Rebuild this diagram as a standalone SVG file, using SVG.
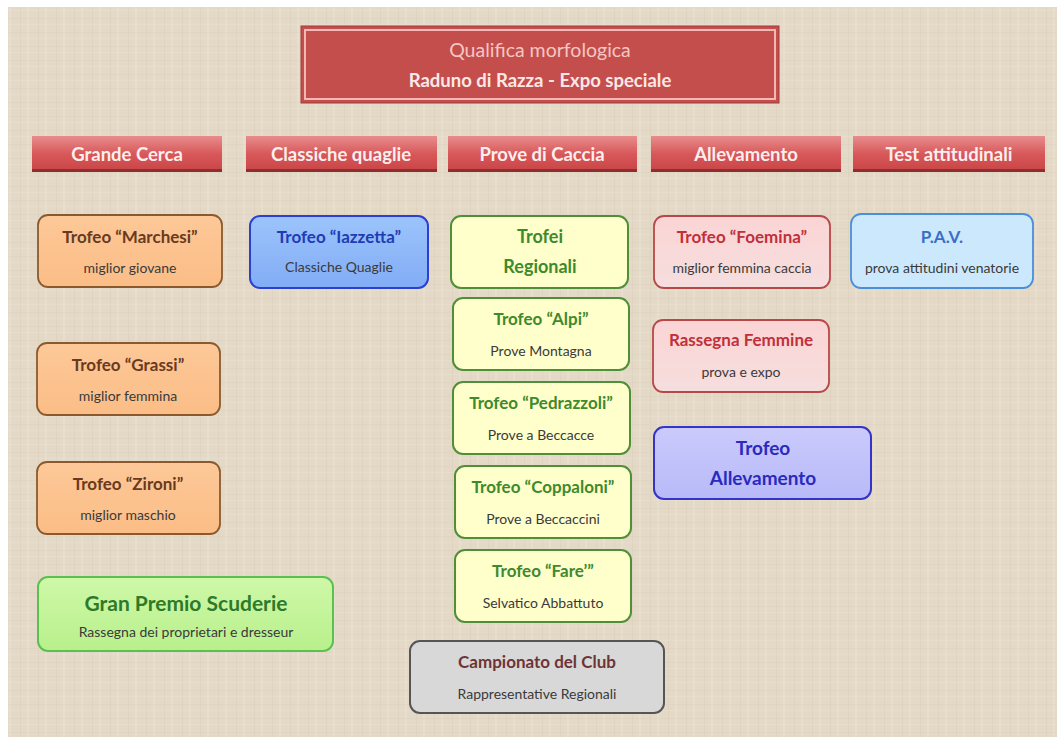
<svg xmlns="http://www.w3.org/2000/svg" width="1057" height="737" viewBox="0 0 1057 737">
<style>
text{font-family:Lato,"Open Sans","Liberation Sans",sans-serif;text-anchor:middle}
.hdr text{fill:#fbeeee;font-size:18.5px;font-weight:bold}
.t{font-size:17px;font-weight:bold}
.s{font-size:14px;fill:#3a3a3a}
.or{fill:url(#gOr);stroke:#8a5a2e;stroke-width:1.8}
.bl{fill:url(#gBl);stroke:#2b3fd0;stroke-width:2}
.ye{fill:#ffffcc;stroke:#4f8f3a;stroke-width:2}
.pk{fill:url(#gPk);stroke:#b84848;stroke-width:1.8}
.lb{fill:#cce8fc;stroke:#4a8fd8;stroke-width:1.8}
.vi{fill:url(#gVi);stroke:#3434c8;stroke-width:2}
.gr{fill:url(#gGr);stroke:#5cc050;stroke-width:2}
.gy{fill:#d8d8d8;stroke:#555555;stroke-width:2}
</style>
<defs>
<pattern id="tex" width="18" height="14" patternUnits="userSpaceOnUse">
<rect width="18" height="14" fill="#e4d9c7"/>
<rect x="2" width="1" height="14" fill="#d9cdb9" opacity="0.5"/>
<rect x="9" width="2" height="14" fill="#ece3d3" opacity="0.5"/>
<rect y="4" width="18" height="1" fill="#dacfbb" opacity="0.4"/>
<rect y="10" width="18" height="1" fill="#ece3d4" opacity="0.4"/>
</pattern>
<linearGradient id="gHdr" x1="0" y1="0" x2="0" y2="1">
<stop offset="0" stop-color="#e88c8c"/>
<stop offset="0.5" stop-color="#d8585a"/>
<stop offset="1" stop-color="#c84446"/>
</linearGradient>
<linearGradient id="gOr" x1="0" y1="0" x2="0" y2="1">
<stop offset="0" stop-color="#fdc898"/>
<stop offset="1" stop-color="#fbbd86"/>
</linearGradient>
<linearGradient id="gBl" x1="0" y1="0" x2="0" y2="1">
<stop offset="0" stop-color="#9cc4fb"/>
<stop offset="1" stop-color="#82acf6"/>
</linearGradient>
<linearGradient id="gPk" x1="0" y1="0" x2="0" y2="1">
<stop offset="0" stop-color="#fbd4d4"/>
<stop offset="1" stop-color="#f6dede"/>
</linearGradient>
<linearGradient id="gVi" x1="0" y1="0" x2="0" y2="1">
<stop offset="0" stop-color="#cacafc"/>
<stop offset="1" stop-color="#b8baf8"/>
</linearGradient>
<linearGradient id="gGr" x1="0" y1="0" x2="0" y2="1">
<stop offset="0" stop-color="#cff8a8"/>
<stop offset="1" stop-color="#b8f08c"/>
</linearGradient>
</defs>
<rect width="1057" height="737" fill="#ffffff"/>
<rect x="8" y="7" width="1049" height="730" fill="url(#tex)"/>

<g id="title">
<rect x="301" y="26" width="478" height="77" fill="#c44e4c" stroke="#a03c3a" stroke-width="1"/>
<rect x="305" y="30" width="470" height="69" fill="none" stroke="#f2b8b4" stroke-width="2"/>
<text x="540" y="57" style="font-size:19.5px;fill:#f6c6c2">Qualifica morfologica</text>
<text x="540" y="87" style="font-size:18.5px;font-weight:bold;fill:#fbe8e6">Raduno di Razza - Expo speciale</text>
</g>

<g class="hdr">
<g id="h-grande-cerca"><rect x="32" y="136" width="190" height="36" fill="url(#gHdr)"/><rect x="32" y="169" width="190" height="3" fill="#8e2e2e"/><text x="127" y="161">Grande Cerca</text></g>
<g id="h-classiche"><rect x="246" y="136" width="191" height="36" fill="url(#gHdr)"/><rect x="246" y="169" width="191" height="3" fill="#8e2e2e"/><text x="341" y="161">Classiche quaglie</text></g>
<g id="h-prove"><rect x="448" y="136" width="189" height="36" fill="url(#gHdr)"/><rect x="448" y="169" width="189" height="3" fill="#8e2e2e"/><text x="542" y="161">Prove di Caccia</text></g>
<g id="h-allevamento"><rect x="651" y="136" width="190" height="36" fill="url(#gHdr)"/><rect x="651" y="169" width="190" height="3" fill="#8e2e2e"/><text x="746" y="161">Allevamento</text></g>
<g id="h-test"><rect x="853" y="136" width="192" height="36" fill="url(#gHdr)"/><rect x="853" y="169" width="192" height="3" fill="#8e2e2e"/><text x="949" y="161">Test attitudinali</text></g>
</g>

<g id="marchesi"><rect class="or" x="38" y="215" width="184" height="72" rx="10"/><text class="t" x="130" y="243" fill="#6a3a1e">Trofeo “Marchesi”</text><text class="s" x="130" y="273">miglior giovane</text></g>
<g id="grassi"><rect class="or" x="37" y="343" width="183" height="72" rx="10"/><text class="t" x="128" y="371" fill="#6a3a1e">Trofeo “Grassi”</text><text class="s" x="128" y="401">miglior femmina</text></g>
<g id="zironi"><rect class="or" x="37" y="462" width="183" height="72" rx="10"/><text class="t" x="128" y="490" fill="#6a3a1e">Trofeo “Zironi”</text><text class="s" x="128" y="520">miglior maschio</text></g>
<g id="gran-premio"><rect class="gr" x="38" y="577" width="295" height="74" rx="10"/><text x="186" y="611" style="font-size:21px;font-weight:bold;fill:#2f7a28">Gran Premio Scuderie</text><text class="s" x="186" y="637">Rassegna dei proprietari e dresseur</text></g>

<g id="iazzetta"><rect class="bl" x="250" y="216" width="178" height="72" rx="10"/><text class="t" x="339" y="243" fill="#1e3cb4">Trofeo “Iazzetta”</text><text class="s" x="339" y="272">Classiche Quaglie</text></g>

<g id="trofei-regionali"><rect class="ye" x="451" y="216" width="177" height="72" rx="10"/><text x="540" y="243" style="font-size:18px;font-weight:bold;fill:#3e8a2c">Trofei</text><text x="540" y="273" style="font-size:18px;font-weight:bold;fill:#3e8a2c">Regionali</text></g>
<g id="alpi"><rect class="ye" x="453" y="298" width="176" height="72" rx="10"/><text class="t" x="541" y="325" fill="#3e8a2c">Trofeo “Alpi”</text><text class="s" x="541" y="356">Prove Montagna</text></g>
<g id="pedrazzoli"><rect class="ye" x="453" y="382" width="177" height="72" rx="10"/><text class="t" x="541" y="409" fill="#3e8a2c">Trofeo “Pedrazzoli”</text><text class="s" x="541" y="440">Prove a Beccacce</text></g>
<g id="coppaloni"><rect class="ye" x="455" y="466" width="176" height="72" rx="10"/><text class="t" x="543" y="493" fill="#3e8a2c">Trofeo “Coppaloni”</text><text class="s" x="543" y="524">Prove a Beccaccini</text></g>
<g id="fare"><rect class="ye" x="455" y="550" width="176" height="72" rx="10"/><text class="t" x="543" y="577" fill="#3e8a2c">Trofeo “Fare’”</text><text class="s" x="543" y="608">Selvatico Abbattuto</text></g>
<g id="campionato"><rect class="gy" x="410" y="641" width="254" height="72" rx="10"/><text class="t" x="537" y="668" fill="#6e3434">Campionato del Club</text><text class="s" x="537" y="699">Rappresentative Regionali</text></g>

<g id="foemina"><rect class="pk" x="654" y="216" width="176" height="72" rx="10"/><text class="t" x="742" y="243" fill="#c0303a">Trofeo “Foemina”</text><text class="s" x="742" y="273">miglior femmina caccia</text></g>
<g id="rassegna"><rect class="pk" x="653" y="320" width="176" height="72" rx="10"/><text class="t" x="741" y="346" fill="#c0303a">Rassegna Femmine</text><text class="s" x="741" y="377">prova e expo</text></g>
<g id="allevamento"><rect class="vi" x="654" y="427" width="217" height="72" rx="10"/><text x="763" y="455" style="font-size:19px;font-weight:bold;fill:#2a2ac0">Trofeo</text><text x="763" y="485" style="font-size:19px;font-weight:bold;fill:#2a2ac0">Allevamento</text></g>

<g id="pav"><rect class="lb" x="851" y="214" width="182" height="74" rx="10"/><text class="t" x="942" y="243" fill="#3a6ec4">P.A.V.</text><text class="s" x="942" y="273">prova attitudini venatorie</text></g>

<g id="connectors"></g>
</svg>
